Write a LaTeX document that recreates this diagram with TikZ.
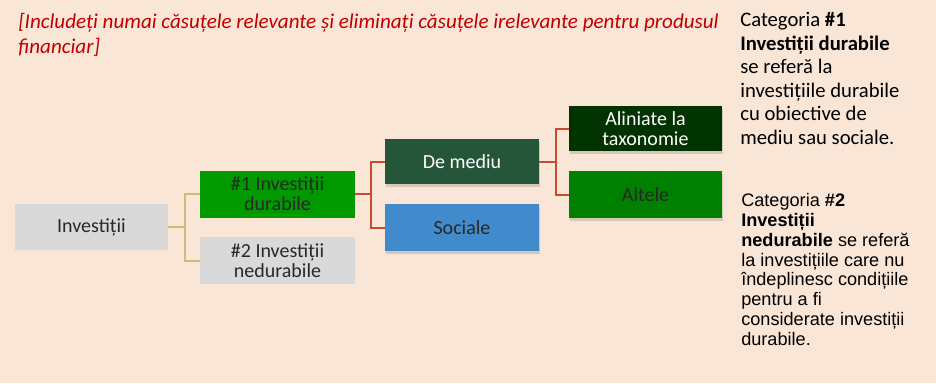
\documentclass[tikz,border=0pt]{standalone}
\usepackage{fontspec}
\setmainfont{Carlito}
\newfontfamily\arialfont{Liberation Sans}
\usetikzlibrary{shadows}
\definecolor{panelPeach}{RGB}{250,230,214}
\definecolor{noteRed}{RGB}{192,0,0}
\definecolor{boxGray}{RGB}{217,217,217}
\definecolor{boxGreen}{RGB}{0,153,0}
\definecolor{envGreen}{RGB}{38,86,58}
\definecolor{taxGreen}{RGB}{0,51,0}
\definecolor{otherGreen}{RGB}{0,128,0}
\definecolor{socialBlue}{RGB}{65,138,204}
\definecolor{lineOlive}{RGB}{200,190,120}
\definecolor{lineRed}{RGB}{200,75,45}
\definecolor{textDark}{RGB}{40,40,40}

\tikzset{
  catbox/.style={minimum width=115pt, minimum height=35pt, align=center, inner sep=2pt, font=\fontsize{15}{15}\selectfont},
  shadowbox/.style={catbox, drop shadow={shadow xshift=1pt, shadow yshift=-2.5pt, opacity=0.3}},
  branch/.style={line width=1.5pt},
}

\begin{document}
\begin{tikzpicture}[x=0.75pt, y=-0.75pt]
    % Background
    \fill[panelPeach] (0,0) rectangle (936,383);

    % Note (base = last line)
    \node[anchor=base west, align=left, inner sep=0, text=noteRed, font=\itshape\fontsize{15.8}{18.75}\selectfont] (note) at (18,53) {[Includeți numai căsuțele relevante și eliminați căsuțele irelevante pentru produsul\\financiar]};

    % Investitii
    \node[catbox, fill=boxGray, text=textDark, minimum width=114.75pt, minimum height=34.5pt] (inv) at (91.5,227) {Investiții};

    % #1 and #2
    \node[catbox, fill=boxGreen, text=textDark, minimum width=116.25pt, minimum height=35.25pt] (dur) at (277.5,194) {\#1 Investiții\\durabile};
    \node[catbox, fill=boxGray, text=textDark, minimum width=116.25pt, minimum height=35.25pt] (ned) at (277.5,260.5) {\#2 Investiții\\nedurabile};

    % De mediu / Sociale
    \node[shadowbox, fill=envGreen, text=white, minimum width=115.5pt, minimum height=33.75pt] (med) at (462,161.5) {De mediu};
    \node[shadowbox, fill=socialBlue, text=textDark, minimum width=115.5pt, minimum height=35.25pt] (soc) at (462,227.5) {Sociale};

    % Aliniate / Altele
    \node[shadowbox, fill=taxGreen, text=white, minimum width=114.75pt, minimum height=33.75pt] (ali) at (645.5,128.5) {Aliniate la\\taxonomie};
    \node[shadowbox, fill=otherGreen, text=textDark, minimum width=114.75pt, minimum height=35.25pt] (alt) at (645.5,194.5) {Altele};

    % Branches
    \draw[branch, lineOlive] (inv.east) -- ++(17,0) coordinate (j1) |- (dur.west);
    \draw[branch, lineOlive] (j1) |- (ned.west);
    \draw[branch, lineRed] (dur.east) -- ++(16,0) coordinate (j2) |- (med.west);
    \draw[branch, lineRed] (j2) |- (soc.west);
    \draw[branch, lineRed] (med.east) -- ++(17,0) coordinate (j3) |- (ali.west);
    \draw[branch, lineRed] (j3) |- (alt.west);

    % Categories text (base = last line)
    \node[anchor=base west, align=left, inner sep=0, font=\fontsize{15.5}{17.6}\selectfont] (cat1) at (740,144) {Categoria \textbf{\#1}\\\textbf{Investiții durabile}\\se referă la\\investițiile durabile\\cu obiective de\\mediu sau sociale.};
    \node[anchor=base west, align=left, inner sep=0, font=\arialfont\fontsize{13.6}{14.8}\selectfont] (cat2) at (741,345) {Categoria \textbf{\#2}\\\textbf{Investiții}\\\textbf{nedurabile} se referă\\la investițiile care nu\\îndeplinesc condițiile\\pentru a fi\\considerate investiții\\durabile.};
\end{tikzpicture}
\end{document}
